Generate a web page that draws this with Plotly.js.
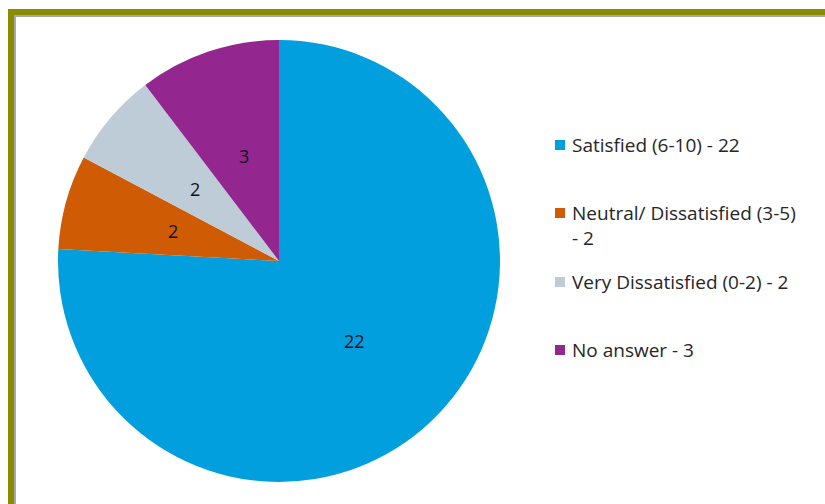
<!DOCTYPE html>
<html>
<head>
<meta charset="utf-8">
<script src="https://cdn.plot.ly/plotly-3.0.1.min.js"></script>
<style>
html,body{margin:0;padding:0;background:#fff;}
#chart{width:825px;height:504px;}
</style>
</head>
<body>
<div id="chart"></div>
<script>
// Data
const labels = ["Satisfied (6-10)", "Neutral/ Dissatisfied (3-5)", "Very Dissatisfied (0-2)", "No answer"];
const values = [22, 2, 2, 3];
const colors = ["#029FDE", "#D05B05", "#BDCCD7", "#93278F"];

const W = 825, H = 504;
const px = x => x / W;
const py = y => 1 - y / H;

// pie geometry (pixels)
const cx = 279, cy = 261, R = 221;

const trace = {
  type: "pie",
  labels: labels,
  values: values,
  sort: false,
  direction: "clockwise",
  rotation: 0,
  marker: {colors: colors, line: {width: 0}},
  textinfo: "none",
  domain: {x: [px(cx - R), px(cx + R)], y: [py(cy + R), py(cy - R)]},
  showlegend: false,
  hoverinfo: "label+value"
};

const shapes = [
  // olive frame
  {type: "line", xref: "paper", yref: "paper", x0: px(11), x1: px(11), y0: py(12), y1: py(520), line: {color: "#8B8B00", width: 6}},
  {type: "line", xref: "paper", yref: "paper", x0: px(8), x1: px(840), y0: py(12), y1: py(12), line: {color: "#8B8B00", width: 6}},
  {type: "line", xref: "paper", yref: "paper", x0: px(15), x1: px(15), y0: py(15), y1: py(520), line: {color: "#A8A8A8", width: 2}},
  {type: "line", xref: "paper", yref: "paper", x0: px(14), x1: px(840), y0: py(16), y1: py(16), line: {color: "#A8A8A8", width: 2}}
];
const annotations = [];

// slice value labels at half radius along each slice's middle angle
const total = values.reduce((a, b) => a + b, 0);
let cum = 0;
values.forEach((v) => {
  const mid = (cum + v / 2) / total * 2 * Math.PI;
  cum += v;
  const x = cx + 0.5 * R * Math.sin(mid);
  const y = cy - 0.5 * R * Math.cos(mid);
  annotations.push({xref: "paper", yref: "paper", x: px(x), y: py(y),
    xanchor: "center", yanchor: "middle", showarrow: false, text: String(v),
    font: {family: "Open Sans, sans-serif", size: 18, color: "#111"}});
});

// manual legend built from the arrays
const itemY = [145, 213, 282, 350];
const lineGap = 25;
labels.forEach((lab, i) => {
  const full = lab + " - " + values[i];
  const lines = full.length > 28 ? [lab, "- " + values[i]] : [full];
  const y = itemY[i];
  shapes.push({type: "rect", xref: "paper", yref: "paper",
    x0: px(555), x1: px(565), y0: py(y + 5), y1: py(y - 5),
    fillcolor: colors[i], line: {width: 0}});
  lines.forEach((t, j) => {
    annotations.push({xref: "paper", yref: "paper", x: px(570), y: py(y + j * lineGap),
      xanchor: "left", yanchor: "middle", showarrow: false, text: t, align: "left",
      font: {family: "Open Sans, sans-serif", size: 19, color: "#262626"}});
  });
});

const layout = {
  width: W, height: H,
  margin: {l: 0, r: 0, t: 0, b: 0},
  paper_bgcolor: "#fff",
  showlegend: false,
  shapes: shapes,
  annotations: annotations
};

Plotly.newPlot("chart", [trace], layout, {displayModeBar: false, staticPlot: true});
</script>
</body>
</html>
